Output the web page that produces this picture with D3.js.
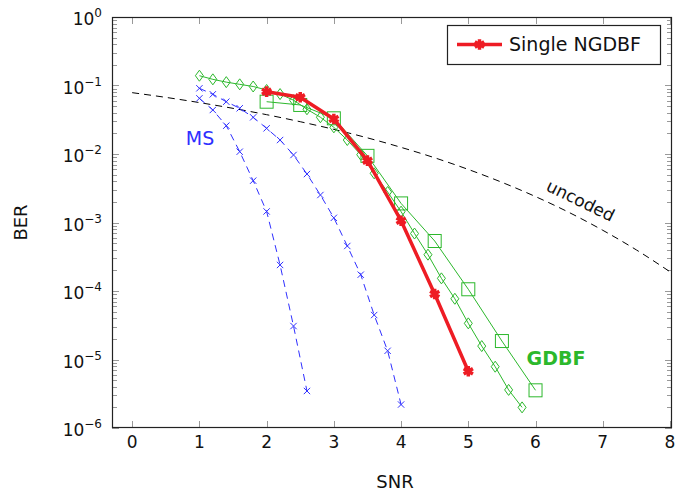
<!DOCTYPE html>
<html>
<head>
<meta charset="utf-8">
<script src="https://cdn.jsdelivr.net/npm/d3@7"></script>
<style>
  html, body { margin: 0; padding: 0; background: #fff; }
  svg { display: block; }
  text { font-family: "DejaVu Sans", sans-serif; }
</style>
</head>
<body>
<svg id="chart" width="680" height="491"></svg>
<script>
// ---- data ----
const xTicks = [0, 1, 2, 3, 4, 5, 6, 7, 8];
const yTickExps = [0, -1, -2, -3, -4, -5, -6];

// uncoded BPSK reference curve
const uncodedSNR = [0, 0.5, 1, 1.5, 2, 2.5, 3, 3.5, 4, 4.5, 5, 5.5, 6, 6.5, 7, 7.5, 8];
const uncodedBER = [0.0786, 0.0671, 0.0563, 0.0464, 0.0375, 0.0296, 0.0229, 0.0172, 0.0125,
                    0.0088, 0.00595, 0.00386, 0.00239, 0.0014, 0.00077, 0.000398, 0.000191];

// min-sum decoders
const ms1SNR = [1, 1.2, 1.4, 1.6, 1.8, 2.0, 2.2, 2.4, 2.6];
const ms1BER = [0.065, 0.0439, 0.0259, 0.0108, 0.00408, 0.00145, 0.00024, 3.08e-5, 3.47e-6];
const ms2SNR = [1, 1.2, 1.4, 1.6, 1.8, 2.0, 2.2, 2.4, 2.6, 2.8, 3.0, 3.2, 3.4, 3.6, 3.8, 4.0];
const ms2BER = [0.091, 0.0744, 0.058, 0.0465, 0.0343, 0.0237, 0.016, 0.00967, 0.0051, 0.00252,
                0.00117, 0.000454, 0.000173, 4.46e-5, 1.34e-5, 2.2e-6];

// GDBF variants
const gdbfDiamondSNR = [1, 1.2, 1.4, 1.6, 1.8, 2.0, 2.2, 2.4, 2.6, 2.8, 3.0, 3.2, 3.4, 3.6, 3.8,
                        4.0, 4.2, 4.4, 4.6, 4.8, 5.0, 5.2, 5.4, 5.6, 5.8];
const gdbfDiamondBER = [0.139, 0.123, 0.112, 0.104, 0.0967, 0.086, 0.075, 0.061, 0.045, 0.0344,
                        0.0245, 0.016, 0.00977, 0.00522, 0.00279, 0.00144, 0.00069, 0.000339,
                        0.000153, 7.7e-5, 3.37e-5, 1.57e-5, 7.85e-6, 3.6e-6, 2.0e-6];
const gdbfSquareSNR = [2, 2.5, 3, 3.5, 4, 4.5, 5, 5.5, 6];
const gdbfSquareBER = [0.058, 0.052, 0.0332, 0.0094, 0.0019, 0.000537, 0.000106, 1.86e-5, 3.55e-6];

// single NGDBF
const ngdbfSNR = [2, 2.5, 3, 3.5, 4, 4.5, 5];
const ngdbfBER = [0.0812, 0.0673, 0.0324, 0.00798, 0.00106, 9.04e-5, 6.73e-6];

// ---- layout ----
const svg = d3.select("#chart");
const L = 112, R = 672, T = 17, B = 428;
const x = d3.scaleLinear().domain([-0.3, 8.03]).range([L, R]);
const y = d3.scaleLog().domain([1e-6, 1]).range([B, T]);

const RED = "#ee1c24", GREEN = "#2cb82c", BLUE = "#2f2fff";

const zip = (a, b) => a.map((v, i) => [v, b[i]]);
const line = d3.line().x(d => x(d[0])).y(d => y(d[1]));

const clip = svg.append("defs").append("clipPath").attr("id", "plotclip")
  .append("rect").attr("x", L).attr("y", T).attr("width", R - L).attr("height", B - T);

// ---- ticks ----
const tickG = svg.append("g").attr("stroke", "#999").attr("stroke-width", 1);
xTicks.forEach(t => {
  const px = Math.round(x(t)) + 0.5;
  tickG.append("line").attr("x1", px).attr("x2", px).attr("y1", B).attr("y2", B - 7);
  tickG.append("line").attr("x1", px).attr("x2", px).attr("y1", T).attr("y2", T + 7);
});
for (let e = 0; e >= -6; e--) {
  const base = Math.pow(10, e);
  const py = Math.round(y(base)) + 0.5;
  tickG.append("line").attr("x1", L).attr("x2", L + 7).attr("y1", py).attr("y2", py);
  tickG.append("line").attr("x1", R).attr("x2", R - 7).attr("y1", py).attr("y2", py);
  if (e > -6) {
    for (let m = 2; m <= 9; m++) {
      const my = Math.round(y(base / 10 * m)) + 0.5;
      tickG.append("line").attr("x1", L).attr("x2", L + 5).attr("y1", my).attr("y2", my);
      tickG.append("line").attr("x1", R).attr("x2", R - 5).attr("y1", my).attr("y2", my);
    }
  }
}

// ---- curves ----
const plot = svg.append("g").attr("clip-path", "url(#plotclip)");

plot.append("path")
  .datum(zip(uncodedSNR, uncodedBER))
  .attr("d", line.curve(d3.curveMonotoneX))
  .attr("fill", "none").attr("stroke", "#000").attr("stroke-width", 1)
  .attr("stroke-dasharray", "7,5");
line.curve(d3.curveLinear);

const timesPath = d3.symbol().type(d3.symbolTimes).size(28)();
[[ms1SNR, ms1BER], [ms2SNR, ms2BER]].forEach(([sx, sy]) => {
  const pts = zip(sx, sy);
  plot.append("path").datum(pts).attr("d", line)
    .attr("fill", "none").attr("stroke", BLUE).attr("stroke-width", 1)
    .attr("stroke-dasharray", "7,5");
  plot.selectAll(null).data(pts).enter().append("path")
    .attr("d", timesPath)
    .attr("transform", d => `translate(${x(d[0])},${y(d[1])})`)
    .attr("fill", "none").attr("stroke", BLUE).attr("stroke-width", 1);
});

// GDBF with square markers
const sqPts = zip(gdbfSquareSNR, gdbfSquareBER);
plot.append("path").datum(sqPts).attr("d", line)
  .attr("fill", "none").attr("stroke", GREEN).attr("stroke-width", 1);
plot.selectAll(null).data(sqPts).enter().append("rect")
  .attr("x", d => x(d[0]) - 6.5).attr("y", d => y(d[1]) - 6.5)
  .attr("width", 13).attr("height", 13)
  .attr("fill", "none").attr("stroke", GREEN).attr("stroke-width", 1);

// GDBF with diamond markers
const dmPts = zip(gdbfDiamondSNR, gdbfDiamondBER);
plot.append("path").datum(dmPts).attr("d", line)
  .attr("fill", "none").attr("stroke", GREEN).attr("stroke-width", 1);
const diamond = "M0,-5.5L4,0L0,5.5L-4,0Z";
plot.selectAll(null).data(dmPts).enter().append("path")
  .attr("d", diamond)
  .attr("transform", d => `translate(${x(d[0])},${y(d[1])})`)
  .attr("fill", "#fff").attr("fill-opacity", 0).attr("stroke", GREEN).attr("stroke-width", 1);

// single NGDBF
const starPath = d3.symbol().type(d3.symbolAsterisk).size(80)();
const ngPts = zip(ngdbfSNR, ngdbfBER);
plot.append("path").datum(ngPts).attr("d", line)
  .attr("fill", "none").attr("stroke", RED).attr("stroke-width", 3.5)
  .attr("stroke-linejoin", "round");
plot.selectAll(null).data(ngPts).enter().append("path")
  .attr("d", starPath)
  .attr("transform", d => `translate(${x(d[0])},${y(d[1])})`)
  .attr("fill", "none").attr("stroke", RED).attr("stroke-width", 3.5);

// ---- frame ----
svg.append("rect").attr("x", L + 0.5).attr("y", T + 0.5)
  .attr("width", R - L - 1).attr("height", B - T - 1)
  .attr("fill", "none").attr("stroke", "#222").attr("stroke-width", 1.2);

// ---- tick labels ----
svg.append("g").selectAll("text").data(xTicks).enter().append("text")
  .attr("x", d => x(d)).attr("y", B + 20)
  .attr("text-anchor", "middle").attr("font-size", 17).attr("fill", "#111")
  .text(d => d);

const yl = svg.append("g").selectAll("text").data(yTickExps).enter().append("text")
  .attr("x", 102).attr("y", d => y(Math.pow(10, d)) + 8)
  .attr("text-anchor", "end").attr("font-size", 17).attr("fill", "#111");
yl.append("tspan").text("10");
yl.append("tspan").attr("dy", -8).attr("font-size", 12)
  .text(d => d === 0 ? "0" : "\u2212" + (-d));

// ---- axis titles ----
svg.append("text").attr("x", (L + R) / 2 + 3).attr("y", 488)
  .attr("text-anchor", "middle").attr("font-size", 18).attr("fill", "#111").text("SNR");
svg.append("text").attr("transform", `translate(27,${(T + B) / 2}) rotate(-90)`)
  .attr("text-anchor", "middle").attr("font-size", 18).attr("fill", "#111").text("BER");

// ---- annotations ----
svg.append("text").attr("x", 200).attr("y", 145).attr("text-anchor", "middle")
  .attr("font-size", 19).attr("fill", BLUE).text("MS");
svg.append("text").attr("x", 556).attr("y", 365).attr("text-anchor", "middle")
  .attr("font-size", 19).attr("font-weight", "bold").attr("fill", GREEN).text("GDBF");
svg.append("text").attr("transform", "translate(578,206) rotate(26)")
  .attr("text-anchor", "middle").attr("font-size", 17).attr("fill", "#111").text("uncoded");

// ---- legend ----
const lg = svg.append("g");
lg.append("rect").attr("x", 447.5).attr("y", 25.5).attr("width", 213).attr("height", 39)
  .attr("fill", "#fff").attr("stroke", "#222").attr("stroke-width", 1.2);
lg.append("line").attr("x1", 457).attr("x2", 502).attr("y1", 44.5).attr("y2", 44.5)
  .attr("stroke", RED).attr("stroke-width", 3.5);
lg.append("path").attr("d", starPath).attr("transform", "translate(479.5,44.5)")
  .attr("fill", "none").attr("stroke", RED).attr("stroke-width", 3.5);
lg.append("text").attr("x", 509).attr("y", 51).attr("font-size", 19).attr("fill", "#111")
  .text("Single NGDBF");
</script>
</body>
</html>
